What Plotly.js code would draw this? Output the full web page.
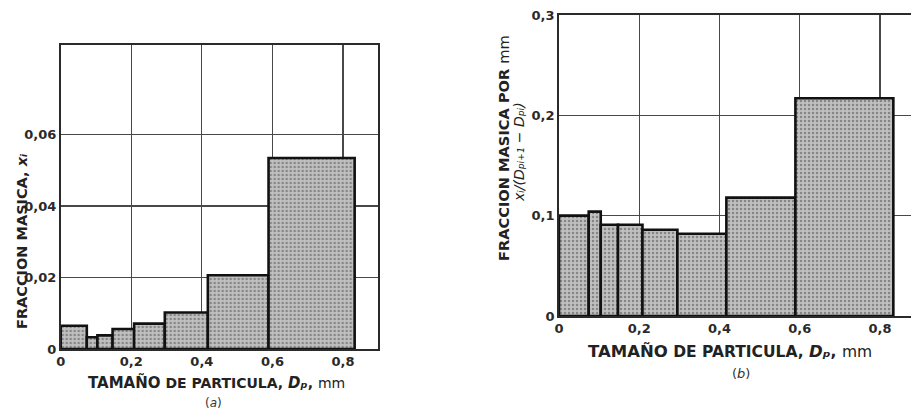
<!DOCTYPE html>
<html>
<head>
<meta charset="utf-8">
<script src="https://cdn.plot.ly/plotly-3.0.1.min.js"></script>
<style>
html,body{margin:0;padding:0;background:#fff;}
#chart{width:911px;height:415px;}
</style>
</head>
<body>
<div id="chart"></div>
<script>
// Sieve openings (mm) bounding each size fraction
const edges = [0, 0.074, 0.104, 0.147, 0.208, 0.295, 0.417, 0.589, 0.833];
// (a) mass fraction x_i of each fraction
const massFraction = [0.0065, 0.0033, 0.0038, 0.0056, 0.0071, 0.0102, 0.0206, 0.0534];
// (b) mass fraction per mm, x_i/(D_pi+1 - D_pi)
const fractionPerMm = [0.100, 0.104, 0.091, 0.091, 0.086, 0.082, 0.118, 0.217];

const xTickValsA = [0, 0.2, 0.4, 0.6, 0.8];
const xTickTextA = ['0', '0,2', '0,4', '0,6', '0,8'];
const yTickValsA = [0, 0.02, 0.04, 0.06];
const yTickTextA = ['0', '0,02', '0,04', '0,06'];
const xTickValsB = [0, 0.2, 0.4, 0.6, 0.8];
const xTickTextB = ['0', '0,2', '0,4', '0,6', '0,8'];
const yTickValsB = [0, 0.1, 0.2, 0.3];
const yTickTextB = ['0', '0,1', '0,2', '0,3'];

const lefts = edges.slice(0, -1);
const widths = lefts.map((e, i) => edges[i + 1] - e);

const W = 911, H = 415;
const px = v => v / W;
const py = v => 1 - v / H;

const barMarker = {
  color: '#b8b8b8',
  pattern: {shape: '.', fgcolor: '#858585', bgcolor: '#c0c0c0', size: 4, solidity: 0.3},
  line: {color: '#111', width: 2.6}
};

const traces = [
  {type: 'bar', x: lefts, y: massFraction, width: widths, offset: 0,
   marker: barMarker, xaxis: 'x', yaxis: 'y', hoverinfo: 'none'},
  {type: 'bar', x: lefts, y: fractionPerMm, width: widths, offset: 0,
   marker: barMarker, xaxis: 'x2', yaxis: 'y2', hoverinfo: 'none'}
];

const FAM = 'DejaVu Sans, Arial, sans-serif';
const tickFont = {family: FAM, size: 13, color: '#2a2a2a', weight: 'bold'};
const gridCol = '#484848';

const axisCommon = {
  showgrid: true, gridcolor: gridCol, gridwidth: 1.2,
  zeroline: false, showline: true, linecolor: '#2a2a2a', linewidth: 1.8,
  ticks: '', tickfont: tickFont, fixedrange: true
};

// text helpers: every styled piece carries an explicit size
const sp = (t, s, extra) => '<span style="font-size:' + s + 'px;' + (extra || '') + '">' + t + '</span>';
const it = (t, s) => sp(t, s, 'font-style:italic');

const titleFont = {family: FAM, size: 13.5, color: '#222', weight: 'bold'};
const xTitle = (big, s) => sp('TAMAÑO', big) + ' ' + sp('DE PARTICULA,', s) + ' ' + it('Dₚ', s + 1) + sp(', ', s) + sp('mm', s, 'font-weight:normal');

const layout = {
  width: W, height: H,
  margin: {l: 0, r: 0, t: 0, b: 0},
  paper_bgcolor: '#fff', plot_bgcolor: '#fff',
  showlegend: false,
  bargap: 0,
  xaxis: Object.assign({}, axisCommon, {
    domain: [px(60.7), px(378.3)], range: [0, 0.9], anchor: 'y',
    tickvals: xTickValsA, ticktext: xTickTextA, mirror: true
  }),
  yaxis: Object.assign({}, axisCommon, {
    domain: [py(349), py(45)], range: [0, 0.085], anchor: 'x',
    tickvals: yTickValsA, ticktext: yTickTextA, mirror: true
  }),
  xaxis2: Object.assign({}, axisCommon, {
    domain: [px(559), 1], range: [0, 0.877], anchor: 'y2',
    tickvals: xTickValsB, ticktext: xTickTextB, mirror: true
  }),
  yaxis2: Object.assign({}, axisCommon, {
    domain: [py(316), py(15)], range: [0, 0.3], anchor: 'x2',
    tickvals: yTickValsB, ticktext: yTickTextB, mirror: false
  }),
  annotations: [
    {xref: 'paper', yref: 'paper', x: px(22), y: py(242), textangle: -90,
     text: 'FRACCION MASICA, ' + it('xᵢ', 14.5), showarrow: false,
     font: Object.assign({}, titleFont, {size: 14.5}), xanchor: 'center', yanchor: 'middle'},
    {xref: 'paper', yref: 'paper', x: px(216), y: py(382),
     text: xTitle(15, 14), showarrow: false,
     font: Object.assign({}, titleFont, {size: 14}), xanchor: 'center', yanchor: 'middle'},
    {xref: 'paper', yref: 'paper', x: px(213), y: py(403),
     text: '(' + it('a', 12) + ')', showarrow: false,
     font: {family: FAM, size: 12, color: '#333'}, xanchor: 'center', yanchor: 'middle'},
    {xref: 'paper', yref: 'paper', x: px(503), y: py(148), textangle: -90,
     text: 'FRACCION MASICA POR ' + sp('mm', 14.6, 'font-weight:normal'), showarrow: false,
     font: Object.assign({}, titleFont, {size: 14.6}), xanchor: 'center', yanchor: 'middle'},
    {xref: 'paper', yref: 'paper', x: px(519), y: py(152), textangle: -90,
     text: it('xᵢ/(Dₚᵢ₊₁ − Dₚᵢ)', 14), showarrow: false,
     font: {family: FAM, size: 14, color: '#222'}, xanchor: 'center', yanchor: 'middle'},
    {xref: 'paper', yref: 'paper', x: px(730), y: py(351),
     text: xTitle(16.5, 15.5), showarrow: false,
     font: Object.assign({}, titleFont, {size: 15.5}), xanchor: 'center', yanchor: 'middle'},
    {xref: 'paper', yref: 'paper', x: px(741), y: py(373),
     text: '(' + it('b', 13) + ')', showarrow: false,
     font: {family: FAM, size: 13, color: '#333'}, xanchor: 'center', yanchor: 'middle'}
  ]
};

Plotly.newPlot('chart', traces, layout, {staticPlot: true, displayModeBar: false});
</script>
</body>
</html>
